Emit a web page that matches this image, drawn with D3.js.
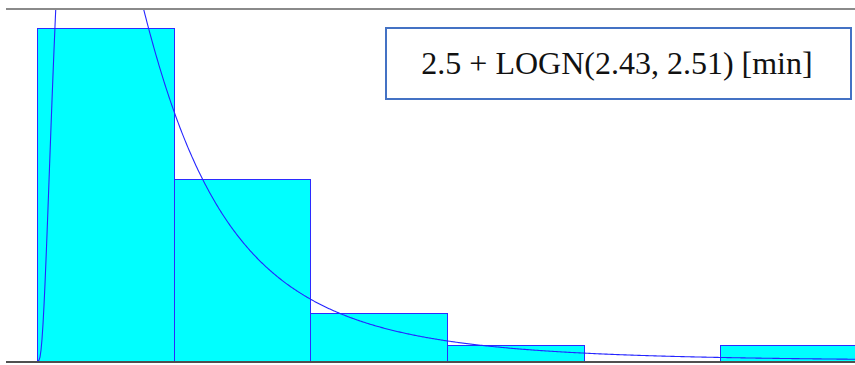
<!DOCTYPE html>
<html>
<head>
<meta charset="utf-8">
<script src="https://cdn.jsdelivr.net/npm/d3@7"></script>
<style>
  body { margin: 0; background: #fff; }
  svg { display: block; }
</style>
</head>
<body>
<svg id="chart" width="855" height="365"></svg>
<script>
// histogram bins (minutes) and observed counts
var binEdges = [2.5, 5, 7.5, 10, 12.5, 15, 17.5];
var binCounts = [42, 23, 6, 2, 0, 2];
var sampleSize = 75;

// fitted distribution: offset + LOGN(mean, std)
var fitOffset = 2.5;
var fitMean = 2.43;
var fitStd = 2.51;
var fitLabel = "2.5 + LOGN(2.43, 2.51) [min]";

var yMaxCount = 44.4;

var svg = d3.select("#chart");

var x = d3.scaleLinear()
  .domain([binEdges[0], binEdges[binEdges.length - 1]])
  .range([37, 857]);

var y = d3.scaleLinear()
  .domain([0, yMaxCount])
  .range([361, 9]);

svg.append("clipPath")
  .attr("id", "plotClip")
  .append("rect")
  .attr("x", 0)
  .attr("y", 9)
  .attr("width", 855)
  .attr("height", 352);

// bars
var bins = binCounts.map(function(c, i){
  return {lower: binEdges[i], upper: binEdges[i + 1], count: c};
});

svg.selectAll("rect.bar")
  .data(bins.filter(function(b){ return b.count > 0; }))
  .enter()
  .append("rect")
  .attr("class", "bar")
  .attr("x", function(b){ return Math.round(x(b.lower)) + 0.5; })
  .attr("y", function(b){ return Math.round(y(b.count)) + 0.5; })
  .attr("width", function(b){ return Math.round(x(b.upper)) - Math.round(x(b.lower)); })
  .attr("height", function(b){ return Math.round(y(0)) - Math.round(y(b.count)); })
  .attr("fill", "#00ffff")
  .attr("stroke", "#2b2bff")
  .attr("stroke-width", 1);

// fitted density, scaled to counts per bin
var s2 = Math.log(1 + (fitStd * fitStd) / (fitMean * fitMean));
var sig = Math.sqrt(s2);
var mu = Math.log(fitMean) - s2 / 2;
var binWidth = binEdges[1] - binEdges[0];

function lognPdf(t){
  if (t <= 0) return 0;
  var z = Math.log(t) - mu;
  return Math.exp(-z * z / (2 * s2)) / (t * sig * Math.sqrt(2 * Math.PI));
}

var curve = [];
for (var px = Math.round(x(fitOffset)); px <= 856; px++){
  var v = x.invert(px);
  curve.push([px, lognPdf(v - fitOffset) * binWidth * sampleSize]);
}

svg.append("path")
  .datum(curve)
  .attr("clip-path", "url(#plotClip)")
  .attr("fill", "none")
  .attr("stroke", "#2525ff")
  .attr("stroke-width", 1.1)
  .attr("d", d3.line()
    .x(function(d){ return d[0]; })
    .y(function(d){ return y(d[1]); }));

// frame lines
svg.append("line")
  .attr("x1", 6).attr("x2", 855)
  .attr("y1", 9).attr("y2", 9)
  .attr("stroke", "#8a8a8a")
  .attr("stroke-width", 2);

svg.append("line")
  .attr("x1", 6).attr("x2", 855)
  .attr("y1", 362).attr("y2", 362)
  .attr("stroke", "#505050")
  .attr("stroke-width", 2);

// label box
svg.append("rect")
  .attr("x", 386)
  .attr("y", 28)
  .attr("width", 465)
  .attr("height", 71)
  .attr("fill", "#fff")
  .attr("stroke", "#4472c4")
  .attr("stroke-width", 2);

svg.append("text")
  .attr("x", 617)
  .attr("y", 74)
  .attr("text-anchor", "middle")
  .attr("font-family", "'Liberation Serif', 'Times New Roman', serif")
  .attr("font-size", 32)
  .attr("fill", "#111")
  .text(fitLabel);
</script>
</body>
</html>
